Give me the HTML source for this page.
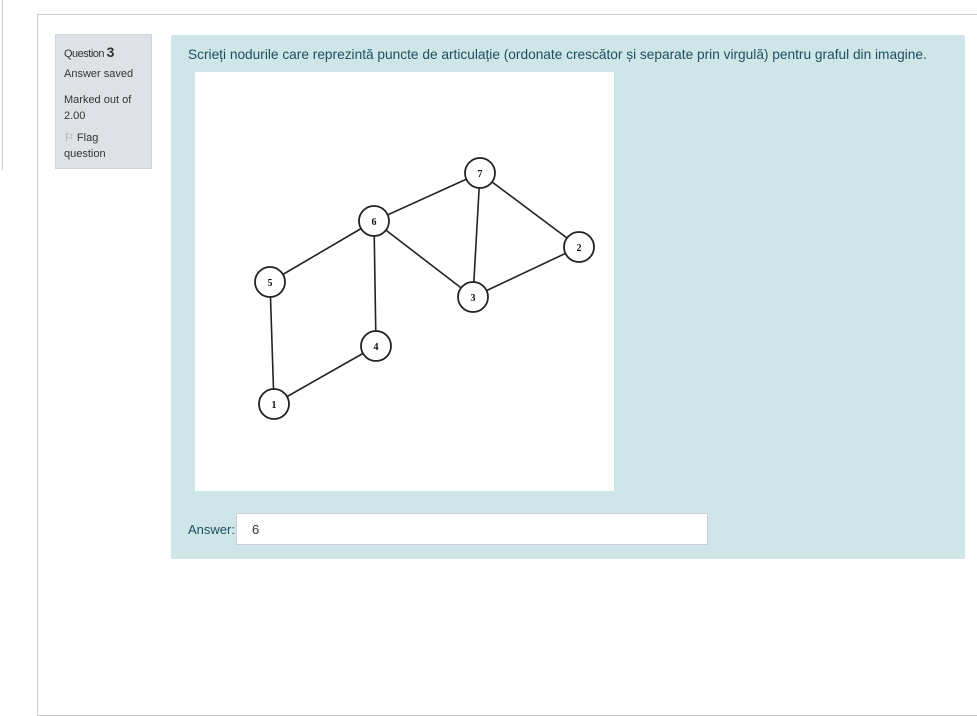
<!DOCTYPE html>
<html><head><style>
body{margin:0;width:977px;height:588px;background:#fff;position:relative;overflow:hidden;font-family:"Liberation Sans",sans-serif;}
.a{position:absolute;}
</style></head><body>
<div class="a" style="left:2px;top:0;width:0;height:170px;border-left:1px solid #ccc"></div>
<div class="a" style="left:37px;top:14px;width:960px;height:700px;border:1px solid #ccc"></div>
<div class="a" style="left:55px;top:34px;width:95px;height:133px;background:#dee2e6;border:1px solid #d4d4d4;font-size:11px;color:#333">
<div style="position:absolute;left:8px;top:9px;letter-spacing:-0.5px">Question <b style="font-size:14px">3</b></div>
<div style="position:absolute;left:8px;top:33px">Answer saved</div>
<div style="position:absolute;left:8px;top:57px;line-height:16px">Marked out of<br>2.00</div>
<div style="position:absolute;left:8px;top:95px;line-height:16px"><span style="color:#999">⚐</span> Flag<br>question</div>
</div>
<div class="a" style="left:171px;top:35px;width:794px;height:524px;background:#cfe6e8;border-radius:2px"></div>
<div class="a" style="left:188px;top:47px;font-size:13.7px;color:#1d4f5c;white-space:nowrap">Scrieți nodurile care reprezintă puncte de articulație (ordonate crescător și separate prin virgulă) pentru graful din imagine.</div>
<div class="a" style="left:195px;top:72px;width:419px;height:419px;background:#fff"></div>
<svg class="a" style="left:0;top:0" width="977" height="588">
<g stroke="#222" stroke-width="1.6" fill="none">
<line x1="480" y1="173" x2="374" y2="221"/><line x1="480" y1="173" x2="579" y2="247"/><line x1="480" y1="173" x2="473" y2="297"/>
<line x1="374" y1="221" x2="270" y2="282"/><line x1="374" y1="221" x2="473" y2="297"/><line x1="374" y1="221" x2="376" y2="346"/>
<line x1="579" y1="247" x2="473" y2="297"/><line x1="270" y1="282" x2="274" y2="404"/><line x1="376" y1="346" x2="274" y2="404"/>
</g>
<g stroke="#222" stroke-width="1.8" fill="#fff">
<circle cx="480" cy="173" r="15"/><circle cx="374" cy="221" r="15"/><circle cx="579" cy="247" r="15"/><circle cx="270" cy="282" r="15"/><circle cx="473" cy="297" r="15"/><circle cx="376" cy="346" r="15"/><circle cx="274" cy="404" r="15"/>
</g>
<g font-family="Liberation Serif,serif" font-size="10" font-weight="bold" text-anchor="middle" fill="#111">
<text x="480" y="177">7</text><text x="374" y="225">6</text><text x="579" y="251">2</text><text x="270" y="286">5</text><text x="473" y="301">3</text><text x="376" y="350">4</text><text x="274" y="408">1</text>
</g>
</svg>
<div class="a" style="left:188px;top:522px;font-size:13px;color:#1d4f5c">Answer:</div>
<div class="a" style="left:236px;top:513px;width:470px;height:30px;background:#fff;border:1px solid #ccd;font-size:13px;color:#333"><span style="position:absolute;left:15px;top:8px">6</span></div>
</body></html>
